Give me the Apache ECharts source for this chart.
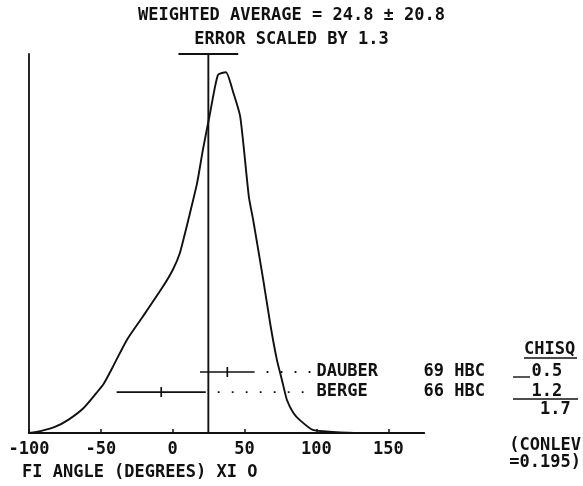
<!DOCTYPE html>
<html>
<head>
<meta charset="utf-8">
<script src="https://cdn.jsdelivr.net/npm/echarts@6/dist/echarts.min.js"></script>
<style>html,body{margin:0;padding:0;background:#fff}#c{width:583px;height:486px}</style>
</head>
<body>
<div id="c"></div>
<script>
// ---- data ----
const xTicks = [-100, -50, 0, 50, 100, 150];
const curveX = [-100, -92, -82, -73, -62, -53, -48, -42, -32, -21, -7, 0, 5, 10, 12, 17, 21, 26, 31.5, 37, 42, 47, 53, 56, 63, 68, 72.5, 76, 79.5, 84, 88.5, 97.5, 111, 130, 175];
const curveY = [0, 0.005, 0.016, 0.034, 0.066, 0.106, 0.13, 0.172, 0.245, 0.306, 0.385, 0.43, 0.475, 0.549, 0.58, 0.66, 0.747, 0.844, 0.945, 0.952, 0.9, 0.834, 0.623, 0.562, 0.404, 0.285, 0.193, 0.14, 0.087, 0.053, 0.034, 0.008, 0.003, 0, 0];
const names = ['DAUBER', 'BERGE'];
const years = ['69', '66'];
const techs = ['HBC', 'HBC'];
const values = [38, -8];
const errors = [19, 31];
const rows = [0.161, 0.108];
const chisq = ['0.5', '1.2'];
const avg = 24.8, avgErr = 20.8, errScale = '1.3';
const chisqTotal = '1.7';
const conlev = '0.195';
const xName = 'FI ANGLE (DEGREES) XI O';

// ---- styling ----
const FONT = '"DejaVu Sans Mono", "Liberation Mono", monospace';
const FS = 17;
const FW = 'bold';
const INK = '#111';
const LABEL_V = 98;

const chart = echarts.init(document.getElementById('c'));

function txt(s, x, y, align) {
  return {
    type: 'text',
    style: {
      text: s, x: x, y: y, fill: INK, fontFamily: FONT, fontSize: FS, fontWeight: FW,
      font: FW + ' ' + FS + 'px ' + FONT,
      align: align || 'left', verticalAlign: 'middle',
      textAlign: align || 'left', textVerticalAlign: 'middle'
    }
  };
}

const option = {
  animation: false,
  backgroundColor: '#fff',
  title: {
    text: 'WEIGHTED AVERAGE = ' + avg.toFixed(1) + ' \u00b1 ' + avgErr.toFixed(1) + '\nERROR SCALED BY ' + errScale,
    left: 'center',
    top: -1,
    textStyle: { fontFamily: FONT, fontSize: FS, fontWeight: FW, color: INK, lineHeight: 24 }
  },
  grid: { left: 29, right: 158.8, top: 54, bottom: 53, containLabel: false, outerBoundsMode: 'none' },
  xAxis: {
    type: 'value', min: -100, max: 175,
    axisLine: { show: true, onZero: false, lineStyle: { color: INK, width: 2 } },
    axisTick: { show: true, inside: true, length: 4, customValues: xTicks, lineStyle: { color: INK, width: 1.5 } },
    axisLabel: { customValues: xTicks, margin: 8, fontFamily: FONT, fontSize: FS, fontWeight: FW, color: INK },
    splitLine: { show: false }
  },
  yAxis: {
    type: 'value', min: 0, max: 1,
    axisLine: { show: true, onZero: false, lineStyle: { color: INK, width: 1.8 } },
    axisTick: { show: false }, axisLabel: { show: false }, splitLine: { show: false }
  },
  series: [
    {
      type: 'line', data: curveX.map((x, i) => [x, curveY[i]]),
      showSymbol: false, smooth: 0.2, lineStyle: { color: INK, width: 1.9 }, z: 3
    },
    {
      type: 'line', data: [[avg, 0], [avg, 1]], showSymbol: false,
      lineStyle: { color: INK, width: 1.9 }, z: 4
    },
    {
      type: 'line', data: [[avg - avgErr, 1], [avg + avgErr, 1]], showSymbol: false,
      lineStyle: { color: INK, width: 2.2 }, z: 4
    },
    {
      type: 'custom',
      clip: false,
      z: 5,
      data: values.map((v, i) => [v, rows[i], errors[i]]),
      renderItem: function (params, api) {
        const i = params.dataIndex;
        const v = api.value(0), r = api.value(1), e = api.value(2);
        const pL = api.coord([v - e, r]);
        const pR = api.coord([v + e, r]);
        const pC = api.coord([v, r]);
        const lab = api.coord([LABEL_V, r]);
        const ls = { stroke: INK, lineWidth: 1.7 };
        return {
          type: 'group',
          children: [
            { type: 'line', shape: { x1: pL[0], y1: pL[1], x2: pR[0], y2: pR[1] }, style: ls },
            { type: 'line', shape: { x1: pC[0], y1: pC[1] - 5, x2: pC[0], y2: pC[1] + 5 }, style: ls },
            { type: 'line', shape: { x1: pR[0] + 12, y1: pR[1], x2: lab[0], y2: lab[1] },
              style: { stroke: INK, lineWidth: 1.8, lineDash: [1.8, 12.2] } },
            txt(names[i], lab[0] + 3, lab[1]),
            txt(years[i] + ' ' + techs[i], lab[0] + 110, lab[1]),
            txt(chisq[i], lab[0] + 218, lab[1])
          ]
        };
      }
    }
  ],
  graphic: [
    txt('CHISQ', 524, 350),
    { type: 'line', shape: { x1: 524, y1: 358, x2: 577, y2: 358 }, style: { stroke: INK, lineWidth: 1.4 } },
    { type: 'line', shape: { x1: 513, y1: 377, x2: 530, y2: 377 }, style: { stroke: INK, lineWidth: 1.4 } },
    { type: 'line', shape: { x1: 513, y1: 399, x2: 578, y2: 399 }, style: { stroke: INK, lineWidth: 1.6 } },
    txt(chisqTotal, 540, 410),
    txt('(CONLEV', 581, 446, 'right'),
    txt('=' + conlev + ')', 581, 463, 'right'),
    txt(xName, 22, 473)
  ]
};
chart.setOption(option);
</script>
</body>
</html>
